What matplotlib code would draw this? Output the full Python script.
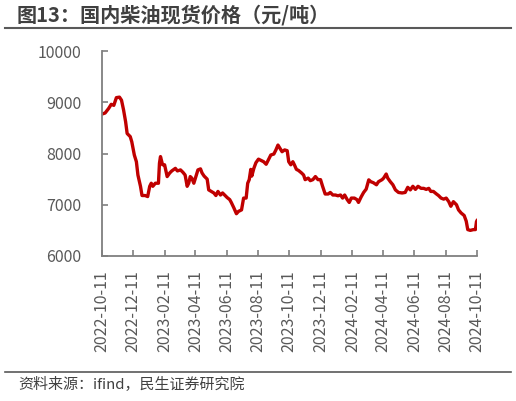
import pandas as pd
import matplotlib
matplotlib.use("Agg")
import matplotlib.pyplot as plt
import matplotlib.dates as mdates
from matplotlib.lines import Line2D

plt.rcParams['font.family'] = ['Noto Sans CJK SC', 'DejaVu Sans']

# 国内柴油现货价格（元/吨）
dates = [
    "2022-10-11", "2022-10-17", "2022-10-24", "2022-10-29", "2022-11-03", "2022-11-08",
    "2022-11-14", "2022-11-18", "2022-11-22", "2022-11-26", "2022-11-29", "2022-12-05",
    "2022-12-08", "2022-12-13", "2022-12-17", "2022-12-20", "2022-12-25", "2022-12-28",
    "2023-01-03", "2023-01-08", "2023-01-12", "2023-01-15", "2023-01-18", "2023-01-23",
    "2023-01-29", "2023-01-31", "2023-02-02", "2023-02-06", "2023-02-10", "2023-02-15",
    "2023-02-20", "2023-02-24", "2023-03-03", "2023-03-07", "2023-03-13", "2023-03-18",
    "2023-03-22", "2023-03-26", "2023-03-29", "2023-04-01", "2023-04-04", "2023-04-08",
    "2023-04-12", "2023-04-16", "2023-04-21", "2023-04-24", "2023-04-28", "2023-05-04",
    "2023-05-07", "2023-05-12", "2023-05-17", "2023-05-21", "2023-05-25", "2023-05-30",
    "2023-06-03", "2023-06-07", "2023-06-12", "2023-06-17", "2023-06-20", "2023-06-25",
    "2023-06-30", "2023-07-04", "2023-07-10", "2023-07-14", "2023-07-19", "2023-07-22",
    "2023-07-25", "2023-07-28", "2023-07-30", "2023-08-03", "2023-08-07", "2023-08-12",
    "2023-08-18", "2023-08-22", "2023-08-27", "2023-09-01", "2023-09-05", "2023-09-11",
    "2023-09-15", "2023-09-19", "2023-09-23", "2023-09-27", "2023-10-02", "2023-10-07",
    "2023-10-10", "2023-10-14", "2023-10-18", "2023-10-21", "2023-10-25", "2023-10-29",
    "2023-11-04", "2023-11-08", "2023-11-11", "2023-11-17", "2023-11-21", "2023-11-26",
    "2023-12-01", "2023-12-06", "2023-12-11", "2023-12-15", "2023-12-20", "2023-12-26",
    "2023-12-30", "2024-01-04", "2024-01-09", "2024-01-14", "2024-01-19", "2024-01-23",
    "2024-01-27", "2024-02-01", "2024-02-05", "2024-02-09", "2024-02-15", "2024-02-20",
    "2024-02-23", "2024-02-28", "2024-03-04", "2024-03-09", "2024-03-14", "2024-03-18",
    "2024-03-23", "2024-03-29", "2024-04-02", "2024-04-09", "2024-04-12", "2024-04-17",
    "2024-04-20", "2024-04-25", "2024-04-30", "2024-05-05", "2024-05-11", "2024-05-18",
    "2024-05-24", "2024-05-29", "2024-06-03", "2024-06-08", "2024-06-13", "2024-06-18",
    "2024-06-24", "2024-06-29", "2024-07-04", "2024-07-09", "2024-07-13", "2024-07-18",
    "2024-07-24", "2024-07-28", "2024-08-02", "2024-08-07", "2024-08-12", "2024-08-17",
    "2024-08-21", "2024-08-26", "2024-09-01", "2024-09-05", "2024-09-10", "2024-09-16",
    "2024-09-20", "2024-09-23", "2024-09-28", "2024-10-04", "2024-10-08", "2024-10-10",
    "2024-10-11",
]
prices = [
    8770, 8790, 8880, 8960, 8940, 9090,
    9100, 9040, 8850, 8620, 8390, 8330,
    8230, 7970, 7840, 7580, 7360, 7180,
    7180, 7160, 7360, 7420, 7360, 7420,
    7420, 7810, 7940, 7780, 7780, 7550,
    7620, 7660, 7710, 7660, 7680, 7630,
    7580, 7360, 7420, 7550, 7520, 7420,
    7550, 7680, 7700, 7620, 7560, 7500,
    7290, 7260, 7230, 7180, 7260, 7190,
    7230, 7190, 7140, 7100, 7045, 6940,
    6825, 6870, 6900, 7130, 7130, 7420,
    7490, 7690, 7560, 7710, 7820, 7890,
    7860, 7840, 7790, 7890, 7970, 7990,
    8070, 8165, 8100, 8035, 8070, 8055,
    7840, 7780, 7840, 7780, 7690, 7670,
    7620, 7580, 7490, 7520, 7470, 7490,
    7550, 7490, 7490, 7360, 7210, 7210,
    7240, 7190, 7190, 7175, 7190, 7130,
    7190, 7100, 7045, 7130, 7130, 7100,
    7045, 7150, 7240, 7305, 7486, 7450,
    7430, 7390, 7450, 7490, 7520, 7600,
    7520, 7450, 7390, 7290, 7240, 7230,
    7240, 7340, 7290, 7360, 7300, 7360,
    7320, 7320, 7300, 7320, 7260, 7260,
    7210, 7180, 7130, 7110, 7130, 7060,
    6970, 7060, 7000, 6900, 6840, 6790,
    6680, 6515, 6500, 6515, 6515, 6670,
    6690,
]

x = pd.to_datetime(dates)
tick_dates = [pd.Timestamp("2022-10-11") + pd.DateOffset(months=2 * i) for i in range(13)]

fig = plt.figure(figsize=(5.16, 4.01), dpi=100)
ax = fig.add_axes([0.1977, 0.3616, 0.7267, 0.5112])

ax.plot(x, prices, color='#C00000', linewidth=2.4, solid_joinstyle='round')

ax.set_xlim(tick_dates[0], tick_dates[-1])
ax.set_ylim(6000, 10000)
ax.set_yticks([6000, 7000, 8000, 9000, 10000])
ax.set_xticks(tick_dates)
ax.xaxis.set_major_formatter(mdates.DateFormatter('%Y-%m-%d'))

for s in ['top', 'right']:
    ax.spines[s].set_visible(False)
for s in ['left', 'bottom']:
    ax.spines[s].set_color('#7F7F7F')
    ax.spines[s].set_linewidth(1.3)

ax.tick_params(axis='both', direction='in', length=4, width=1.2, color='#7F7F7F',
               labelcolor='#595959', labelsize=11.5)
ax.tick_params(axis='y', pad=15)
ax.tick_params(axis='x', pad=10)
plt.setp(ax.get_xticklabels(), rotation=90)

# 标题与分隔线
fig.text(0.033, 0.962, '图13：国内柴油现货价格（元/吨）', fontsize=14.5, fontweight='bold',
         color='#404040', va='center', ha='left')
fig.add_artist(Line2D([0.01, 0.99], [0.931, 0.931], color='#595959', linewidth=1.5))
fig.add_artist(Line2D([0.01, 0.99], [0.073, 0.073], color='#595959', linewidth=1.2))
fig.text(0.035, 0.040, '资料来源：ifind，民生证券研究院', fontsize=10.8,
         color='#404040', va='center', ha='left')

fig.savefig('out.png', dpi=100)
